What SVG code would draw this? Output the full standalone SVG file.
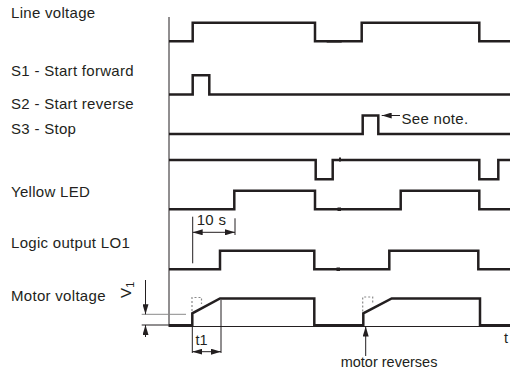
<svg xmlns="http://www.w3.org/2000/svg" width="510" height="371" viewBox="0 0 510 371">
<style>
.lbl{font-family:"Liberation Sans",Arial,sans-serif;font-size:15px;letter-spacing:0.3px;fill:#231f20}
.sm{font-family:"Liberation Sans",Arial,sans-serif;font-size:14.5px;fill:#231f20}
.sig{fill:none;stroke:#231f20;stroke-width:2.5;stroke-linejoin:miter;stroke-linecap:butt}
.thin{fill:none;stroke:#231f20;stroke-width:1}
.grey{fill:none;stroke:#8a8a8a;stroke-width:1}
.dash{fill:none;stroke:#8a8a8a;stroke-width:1.2;stroke-dasharray:2,2}
</style>
<defs>
<marker id="ah" viewBox="0 0 10 6" refX="10" refY="3" markerWidth="10" markerHeight="6" markerUnits="userSpaceOnUse" orient="auto-start-reverse">
<path d="M0,0 L10,3 L0,6 Z" fill="#231f20"/>
</marker>
</defs>
<rect width="510" height="371" fill="#fff"/>
<g id="labels">
<text class="lbl" x="11" y="17.7">Line voltage</text>
<text class="lbl" x="11" y="76.3">S1 - Start forward</text>
<text class="lbl" x="11" y="109.3">S2 - Start reverse</text>
<text class="lbl" x="11" y="134.3">S3 - Stop</text>
<text class="lbl" x="11" y="196.7">Yellow LED</text>
<text class="lbl" x="11" y="247.5">Logic output LO1</text>
<text class="lbl" x="11" y="300.7">Motor voltage</text>
<text class="lbl" transform="translate(131,298) rotate(-90)" letter-spacing="0">V<tspan font-size="11" dy="3">1</tspan></text>
</g>
<g id="axes">
<line class="thin" x1="169" y1="17" x2="169" y2="327" stroke-width="1.4"/>
<line class="thin" x1="169" y1="326.5" x2="510" y2="326.5"/>
<text class="sm" x="504" y="343">t</text>
</g>
<g id="signals">
<path id="line-voltage" class="sig" d="M169,41.3 H192.7 V22.8 H315 V41.3 H361.7 V22.8 H479.3 V41.3 H510"/>
<line class="sig" x1="326.7" y1="41.3" x2="341.7" y2="41.3" stroke-width="3.5"/>
<path id="s1" class="sig" d="M169,94.5 H192.7 V75.2 H209.3 V94.5 H510"/>
<path id="s3" class="sig" d="M169,134 H362.7 V115.5 H378.3 V134 H510"/>
<path id="stop-line" class="sig" d="M169,160 H315.7 V179.3 H332.7 V160 H479.3 V179.3 H498.3 V160 H510"/>
<rect x="339" y="157.5" width="2" height="4" fill="#231f20"/>
<path id="yellow-led" class="sig" d="M169,209.3 H234.3 V190.7 H315 V209.3 H400.7 V190.7 H479.3 V209.3 H510"/>
<rect x="337.5" y="207.5" width="3.5" height="3.5" fill="#231f20"/>
<path id="lo1" class="sig" d="M169,269.3 H220 V250.7 H314.3 V269.3 H389.3 V250.7 H478.3 V269.3 H510"/>
<rect x="336.5" y="267.5" width="3.5" height="3.5" fill="#231f20"/>
<path id="motor" class="sig" d="M169,325.3 H192.3 V313.3 L220,298.5 H314.3 V325.3 H363.3 V313.3 L391.7,298.5 H480 V325.3 H510"/>
<path class="dash" d="M192,311 V297.5 H201.5 V304"/>
<path class="dash" d="M362.7,311.5 V297 H372.7 V303.5"/>
</g>
<g id="connectors">
<line class="thin" x1="400" y1="115.5" x2="381.7" y2="115.5" marker-end="url(#ah)"/>
<line class="thin" x1="192.7" y1="216.7" x2="192.7" y2="263.3"/>
<line class="thin" x1="235" y1="218.3" x2="235" y2="235"/>
<line class="thin" x1="192.7" y1="232.3" x2="235" y2="232.3" marker-start="url(#ah)" marker-end="url(#ah)"/>
<line class="thin" x1="192.3" y1="327" x2="192.3" y2="353"/>
<line class="thin" x1="221" y1="300" x2="221" y2="353"/>
<line class="thin" x1="192.3" y1="351.7" x2="221" y2="351.7" marker-start="url(#ah)" marker-end="url(#ah)"/>
<line class="grey" x1="141.7" y1="314.3" x2="186" y2="314.3"/>
<line class="thin" x1="141.7" y1="325" x2="169" y2="325"/>
<line class="thin" x1="145.5" y1="280" x2="145.5" y2="314.3" marker-end="url(#ah)"/>
<line class="thin" x1="145.5" y1="337" x2="145.5" y2="325" marker-end="url(#ah)"/>
<line class="thin" x1="365.7" y1="356" x2="365.7" y2="326.5" marker-end="url(#ah)"/>
</g>
<g id="annotations">
<text class="lbl" x="401.5" y="124.3" letter-spacing="0.2">See note.</text>
<text class="lbl" x="196.7" y="225" letter-spacing="0.2">10 s</text>
<text class="sm" x="195.5" y="345" font-size="15.5">t1</text>
<text class="sm" x="340.7" y="366.7">motor reverses</text>
</g>
</svg>
